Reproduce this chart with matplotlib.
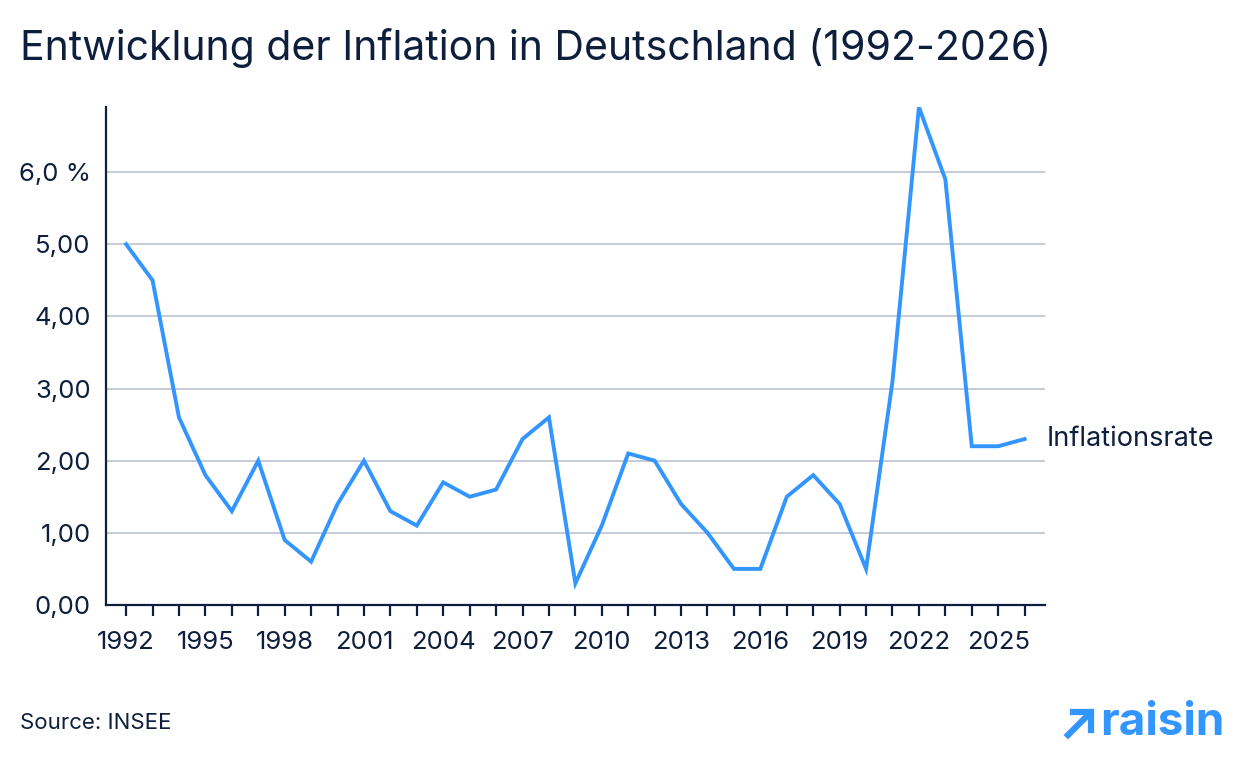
import numpy as np
import matplotlib.pyplot as plt

plt.rcParams['font.family'] = ['Inter', 'DejaVu Sans']

years = list(range(1992, 2027))
inflation = [5.0, 4.5, 2.6, 1.8, 1.3, 2.0, 0.9, 0.6, 1.4, 2.0,
             1.3, 1.1, 1.7, 1.5, 1.6, 2.3, 2.6, 0.3, 1.1, 2.1,
             2.0, 1.4, 1.0, 0.5, 0.5, 1.5, 1.8, 1.4, 0.5, 3.1,
             6.9, 5.9, 2.2, 2.2, 2.3]
y_ticks = [0, 1, 2, 3, 4, 5, 6]
y_labels = ['0,00', '1,00', '2,00', '3,00', '4,00', '5,00', '6,0 %']
x_labels = [str(y) for y in range(1992, 2027, 3)]

navy = '#0d1f3c'
blue = '#3396ff'

fig = plt.figure(figsize=(12.4, 7.6), dpi=100)
ax = fig.add_axes([0.0855, 0.204, 0.757, 0.655])

ax.plot(years, inflation, color=blue, lw=2.8, solid_joinstyle='miter', zorder=3)
ax.set_xlim(1991.24, 2026.76)
ax.set_ylim(0, 6.9)

ax.set_yticks(y_ticks)
ax.set_yticklabels(y_labels)
ax.set_xticks(years)
ax.set_xticklabels([str(y) if str(y) in x_labels else '' for y in years])
ax.grid(axis='y', color='#c7cbd6', lw=1.4)
ax.set_axisbelow(True)

for s in ['top', 'right']:
    ax.spines[s].set_visible(False)
for s in ['left', 'bottom']:
    ax.spines[s].set_color(navy)
    ax.spines[s].set_linewidth(1.6)

ax.tick_params(axis='y', length=0, pad=11, labelsize=18.5, labelcolor=navy)
ax.tick_params(axis='x', length=8, width=1.6, color=navy, pad=11,
               labelsize=18.5, labelcolor=navy)

ax.text(2026.85, inflation[-1], 'Inflationsrate', fontsize=19.5, color=navy,
        va='center', ha='left', clip_on=False)

fig.text(20 / 1240, 1 - 48 / 760, 'Entwicklung der Inflation in Deutschland (1992-2026)',
         fontsize=29.5, color=navy, va='center', ha='left')
fig.text(20 / 1240, 1 - 723 / 760, 'Source: INSEE', fontsize=16, color=navy,
         va='center', ha='left')

# logo
fig.text(1100 / 1240, 1 - 723 / 760, 'raisin', fontsize=33, fontweight='bold',
         color=blue, va='center', ha='left')
fig.add_artist(plt.Line2D([1068 / 1240, 1090 / 1240], [1 - 735 / 760, 1 - 713 / 760],
                          color=blue, lw=4.5, transform=fig.transFigure))
fig.add_artist(plt.Line2D([1073 / 1240, 1091 / 1240, 1091 / 1240],
                          [1 - 712 / 760, 1 - 712 / 760, 1 - 730 / 760],
                          color=blue, lw=4.5, solid_joinstyle='miter',
                          transform=fig.transFigure))

fig.savefig('out.png', dpi=100)
